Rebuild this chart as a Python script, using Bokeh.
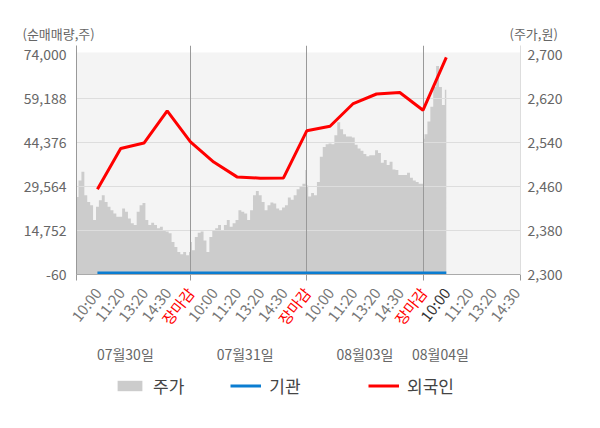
import math
from bokeh.plotting import figure
from bokeh.layouts import column
from bokeh.models import (Range1d, LinearAxis, FixedTicker, NumeralTickFormatter,
                          Legend, LegendItem, BoxAnnotation)
from bokeh.core.properties import value
from bokeh.embed import file_html
from bokeh.resources import INLINE

FONT = "Noto Sans CJK KR"

# ---------------- data ----------------
slot_labels = ["10:00", "11:20", "13:20", "14:30", "장마감"]
dates = ["07월30일", "07월31일", "08월03일", "08월04일"]

# net buying (shares) at each label slot: 07/30 10:00 ... 08/04 10:00
foreign = [28650, 42350, 44200, 55000, 44600,
           37800, 32800, 32350, 32450, 48300,
           49850, 57500, 60700, 61200, 55250,
           73000]
institution = [450, 450, 450, 450, 450,
               450, 450, 450, 450, 450,
               450, 450, 450, 450, 450,
               450]

# intraday price (won), read every 1/8 of a label slot
price_0730 = [2385, 2441, 2471, 2487, 2444, 2432, 2426, 2399, 2423, 2435,
              2444, 2432, 2423, 2417, 2411, 2405, 2405, 2420, 2414, 2402,
              2393, 2390, 2414, 2426, 2430, 2399, 2390, 2394, 2390, 2384,
              2387, 2379, 2378, 2375, 2359, 2350, 2341, 2337, 2341, 2335, 2341]
price_0731 = [2359, 2344, 2368, 2376, 2378, 2362, 2341, 2368, 2381, 2384,
              2390, 2381, 2390, 2399, 2387, 2393, 2399, 2417, 2414, 2411,
              2399, 2417, 2444, 2452, 2444, 2432, 2417, 2426, 2431, 2429,
              2420, 2417, 2422, 2426, 2440, 2436, 2444, 2455, 2461, 2465, 2490]
price_0803 = [2462, 2442, 2448, 2444, 2468, 2514, 2532, 2537, 2538, 2537,
              2553, 2577, 2564, 2555, 2551, 2551, 2549, 2536, 2529, 2525,
              2519, 2515, 2517, 2517, 2526, 2521, 2503, 2508, 2499, 2505,
              2491, 2490, 2481, 2481, 2481, 2485, 2476, 2471, 2468, 2465, 2465]
price_0804 = [2547, 2555, 2578, 2605, 2641, 2679, 2641, 2608, 2636]
price_days = [price_0730, price_0731, price_0803, price_0804]

left_ticks = [-60, 14752, 29564, 44376, 59188, 74000]
right_ticks = [2300, 2380, 2460, 2540, 2620, 2700]

# ---------------- layout constants ----------------
W = 600
SLOTS = 5            # label slots per trading day
STEP = 0.125         # price sampling step in slot units
X0, X1 = 0.1, 19.19  # visible slot range
FL, FR = 76, 80      # frame borders left / right
FW = W - FL - FR
SCALE = FW / (X1 - X0)
TOP_H, MAIN_FH, MAIN_BB, BOT_H = 45, 229, 9, 130
date_anchor = [2.2, 7.35, 12.5, 15.75]

px, py = [], []
for d, day in enumerate(price_days):
    for i, v in enumerate(day):
        px.append(d * SLOTS + i * STEP)
        py.append(v)
flow_x = [i + 1 for i in range(len(foreign))]


def bare(fig):
    fig.xgrid.visible = False
    fig.ygrid.visible = False
    if "frame_align" in fig.properties():
        fig.frame_align = False
    return fig


# ---------------- top strip: axis titles ----------------
ft = bare(figure(width=W, height=TOP_H, x_range=Range1d(0, W), y_range=Range1d(0, TOP_H),
                 output_backend="svg", toolbar_location=None, x_axis_location=None,
                 y_axis_location=None, min_border=0, outline_line_color=None,
                 background_fill_color="white", border_fill_color="white"))
ft.text(x=[22, 509], y=[12, 12], text=["(순매매량,주)", "(주가,원)"],
        text_font=value(FONT), text_font_size=value("13px"), text_color="#666666",
        text_align="left", text_baseline="middle")

# ---------------- main chart ----------------
p = figure(width=W, height=MAIN_FH + MAIN_BB,
           x_range=Range1d(X0, X1), y_range=Range1d(-60, 77030),
           output_backend="svg", toolbar_location=None,
           min_border_left=FL, min_border_right=FR, min_border_top=0, min_border_bottom=MAIN_BB,
           background_fill_color="white", border_fill_color="white", outline_line_color=None)
p.extra_y_ranges = {"price": Range1d(2300, 2716.4)}
bare(p)

p.add_layout(BoxAnnotation(top=74665, fill_color="#f4f4f4", fill_alpha=1,
                           line_color=None, level="underlay"))

if hasattr(p, "varea_step"):
    area = p.varea_step(x=px, y1=2300, y2=py, step_mode="center", fill_color="#cccccc",
                        y_range_name="price")
else:
    area = p.varea(x=px, y1=2300, y2=py, fill_color="#cccccc", y_range_name="price")

p.hspan(y=left_ticks[1:-1], line_color="#dddddd", line_width=1)
p.vspan(x=[SLOTS * d for d in range(1, len(price_days))], line_color="#999999", line_width=1)

inst_line = p.line(flow_x, institution, line_color="#0b7dd1", line_width=3)
for_line = p.line(flow_x, foreign, line_color="#ff0000", line_width=3)

ya = p.yaxis[0]
ya.ticker = FixedTicker(ticks=left_ticks)
ya.formatter = NumeralTickFormatter(format="0,0")
ra = LinearAxis(y_range_name="price", ticker=FixedTicker(ticks=right_ticks),
                formatter=NumeralTickFormatter(format="0,0"))
p.add_layout(ra, "right")
for ax, col, so in ((ya, "#999999", 10), (ra, "#dddddd", 7)):
    ax.major_tick_out = 0
    ax.major_tick_in = 0
    ax.minor_tick_out = 0
    ax.minor_tick_in = 0
    ax.axis_line_color = col
    ax.major_label_standoff = so
    ax.major_label_text_font = FONT
    ax.major_label_text_font_size = "14px"
    ax.major_label_text_color = "#666666"

xa = p.xaxis[0]
xticks = [X0] + [SLOTS * d for d in range(1, len(price_days))] + [X1]
xa.ticker = FixedTicker(ticks=xticks)
xa.major_label_overrides = {t: "" for t in xticks}
xa.major_label_standoff = 0
xa.major_tick_out = 6
xa.major_tick_in = 0
xa.minor_tick_out = 0
xa.minor_tick_in = 0
xa.axis_line_color = "#aaaaaa"
xa.major_tick_line_color = "#999999"

# ---------------- bottom strip: time labels, dates, legend ----------------
fb = bare(figure(width=W, height=BOT_H,
                 x_range=Range1d(X0 - FL / SCALE, X0 + (W - FL) / SCALE),
                 y_range=Range1d(0, BOT_H),
                 output_backend="svg", toolbar_location=None, x_axis_location=None,
                 y_axis_location=None, min_border=0, outline_line_color=None,
                 background_fill_color="white", border_fill_color="white"))

n_ticks = 19
tx = [i + 1 for i in range(n_ticks)]
tt = [slot_labels[i % SLOTS] for i in range(n_ticks)]
tc = ["#ff0000" if t == "장마감" else ("#333333" if i == 3 * SLOTS else "#777777")
      for i, t in enumerate(tt)]
fb.text(x=tx, y=[BOT_H - 6] * n_ticks, text=tt, angle=math.radians(52),
        text_font=value(FONT), text_font_size=value("15px"), text_color=tc,
        text_align="right", text_baseline="middle")
fb.text(x=date_anchor, y=[BOT_H - 70] * len(dates), text=dates,
        text_font=value(FONT), text_font_size=value("14px"), text_color="#666666",
        text_align="center", text_baseline="middle")

# legend proxies (single point, nothing visible)
g_area = fb.varea(x=[X0], y1=[0], y2=[0], fill_color="#cccccc")
g_inst = fb.line(x=[X0], y=[0], line_color="#0b7dd1", line_width=3)
g_for = fb.line(x=[X0], y=[0], line_color="#ff0000", line_width=3)


def mk_legend(items, loc, spacing):
    lg = Legend(items=items, location=loc, orientation="horizontal", spacing=spacing,
                glyph_width=31, glyph_height=13, label_standoff=8, padding=0, margin=0,
                label_height=13, border_line_color=None, background_fill_alpha=0,
                label_text_font=FONT, label_text_font_size="17px", label_text_color="#444444")
    fb.add_layout(lg)


leg_y = BOT_H - 108 - 6.5
mk_legend([LegendItem(label="주가", renderers=[g_area]),
           LegendItem(label="기관", renderers=[g_inst])], (114, leg_y), 46)
mk_legend([LegendItem(label="외국인", renderers=[g_for])], (368, leg_y), 0)

layout = column(ft, p, fb, spacing=0)
open("out.html", "w").write(file_html(layout, INLINE))
